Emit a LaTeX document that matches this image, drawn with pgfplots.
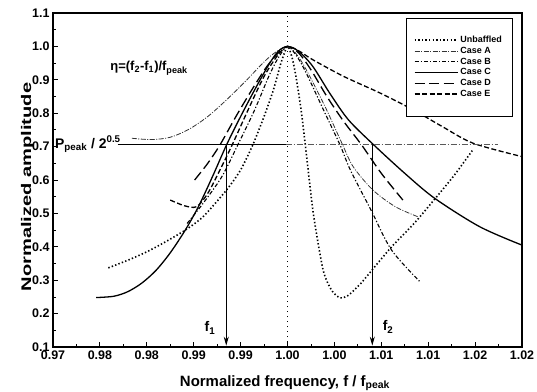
\documentclass[border=0pt]{standalone}
\usepackage{fontspec}
\setmainfont{Liberation Sans}
\usepackage{graphicx}
\usepackage{pgfplots}
\pgfplotsset{compat=1.18}
\usetikzlibrary{arrows.meta}
\begin{document}
\begin{tikzpicture}
\begin{axis}[
  scale only axis, width=469bp, height=334bp,
  xmin=0.975, xmax=1.025, ymin=0.1, ymax=1.1,
  xtick={0.975,0.980,0.985,0.990,0.995,1.000,1.005,1.010,1.015,1.020,1.025},
  xticklabels={0.97,0.98,0.98,0.99,0.99,1.00,1.00,1.01,1.01,1.02,1.02},
  ytick={0.1,0.2,0.3,0.4,0.5,0.6,0.7,0.8,0.9,1.0,1.1},
  yticklabels={0.1,0.2,0.3,0.4,0.5,0.6,0.7,0.8,0.9,1.0,1.1},
  minor x tick num=1, minor y tick num=1,
  tick align=inside, tick pos=left,
  major tick length=5bp, minor tick length=3bp,
  every tick/.style={black, line width=0.8bp},
  axis line style={line width=1.5bp},
  ticklabel style={font=\fontsize{12.5}{14}\selectfont\bfseries},
  xlabel={Normalized frequency, f / f\textsubscript{peak}},
  ylabel={\scalebox{1.44}[1]{Normalized amplitude}},
  xlabel style={font=\fontsize{15}{17}\selectfont\bfseries, at={(axis description cs:0.4947,-0.117)}, anchor=base},
  ylabel style={font=\fontsize{14}{16}\selectfont\bfseries, at={(axis description cs:-0.0544,0.479)}, anchor=center},
  legend style={at={(rel axis cs:0.9787,0.985)}, anchor=north east, draw=black, line width=0.5bp, fill=white,
    font=\fontsize{9}{10}\selectfont\bfseries, inner xsep=8bp, inner ysep=16bp, row sep=-1bp},
  legend cell align=left,
  legend image code/.code={\draw[#1] (0bp,0bp) -- (43bp,0bp);},
]
% Unbaffled
\addplot[black, line width=1.6bp, dash pattern=on 1.4bp off 2.2bp, smooth, tension=0.4] coordinates {
(0.9809,0.337) (0.9830,0.360) (0.9850,0.385) (0.9870,0.415) (0.9891,0.450) (0.9910,0.490)
(0.9935,0.570) (0.9950,0.630) (0.9963,0.705) (0.9975,0.790) (0.9985,0.870) (0.9993,0.950)
(1.0000,1.000) (1.0005,0.965) (1.0009,0.910) (1.00145,0.810) (1.0019,0.705) (1.00275,0.500)
(1.0038,0.330) (1.0047,0.270) (1.0056,0.247) (1.0065,0.255) (1.0078,0.290) (1.0090,0.330)
(1.0111,0.400) (1.0135,0.470) (1.0157,0.543) (1.0178,0.615) (1.0197,0.688)};
\addlegendentry{Unbaffled}
% Case A
\addplot[black!80, line width=0.8bp, dash pattern=on 5bp off 1.5bp on 1bp off 1.5bp, smooth, tension=0.5] coordinates {
(0.9834,0.725) (0.9855,0.721) (0.9875,0.728) (0.9895,0.752) (0.9915,0.790) (0.9935,0.840)
(0.9955,0.895) (0.9972,0.945) (0.9985,0.978) (1.0000,1.000) (1.0010,0.975) (1.0020,0.930)
(1.0040,0.820) (1.0058,0.710) (1.0070,0.640) (1.0091,0.570) (1.0115,0.520) (1.0139,0.490)};
\addlegendentry{Case A}
% Case B
\addplot[black, line width=1.1bp, dash pattern=on 4bp off 2bp on 1.2bp off 2bp, smooth, tension=0.5] coordinates {
(0.9893,0.470) (0.9910,0.530) (0.9930,0.610) (0.9947,0.705) (0.9965,0.810) (0.9980,0.910)
(0.9990,0.965) (1.0000,1.000) (1.0010,0.970) (1.0020,0.920) (1.0040,0.800) (1.0056,0.705)
(1.0067,0.630) (1.0089,0.510) (1.0111,0.390) (1.0141,0.296)};
\addlegendentry{Case B}
% Case C
\addplot[black, line width=1.3bp, smooth, tension=0.5] coordinates {
(0.9796,0.248) (0.9815,0.252) (0.9830,0.266) (0.9845,0.292) (0.9860,0.330) (0.9875,0.382)
(0.9891,0.450) (0.9905,0.520) (0.9920,0.610) (0.9935,0.705) (0.9950,0.790) (0.9965,0.870)
(0.9980,0.945) (0.9990,0.985) (1.0000,1.000) (1.0012,0.985) (1.0027,0.940) (1.0045,0.860)
(1.0065,0.780) (1.0092,0.705) (1.0125,0.620) (1.0157,0.545) (1.0205,0.460) (1.0250,0.405)};
\addlegendentry{Case C}
% Case D
\addplot[black, line width=1.3bp, dash pattern=on 10bp off 4.5bp, smooth, tension=0.5] coordinates {
(0.9901,0.600) (0.9915,0.650) (0.9928,0.705) (0.9945,0.790) (0.9962,0.870) (0.9978,0.940)
(0.9990,0.980) (1.0000,1.000) (1.0012,0.980) (1.0025,0.930) (1.0042,0.850) (1.0060,0.775)
(1.0079,0.705) (1.0100,0.620) (1.0123,0.540)};
\addlegendentry{Case D}
% Case E
\addplot[black, line width=1.3bp, dash pattern=on 5bp off 2.5bp, smooth, tension=0.5] coordinates {
(0.9875,0.540) (0.9890,0.523) (0.9903,0.520) (0.9915,0.560) (0.9928,0.630) (0.9941,0.705)
(0.9958,0.810) (0.9975,0.910) (0.9990,0.975) (1.0000,1.000) (1.0013,0.985) (1.0027,0.960)
(1.0060,0.910) (1.0099,0.860) (1.0134,0.810) (1.0165,0.760) (1.0198,0.710) (1.0250,0.670)};
\addlegendentry{Case E}
% annotations
\addplot[forget plot, black, line width=0.8bp, dash pattern=on 1bp off 4bp] coordinates {(1.0,0.1) (1.0,1.1)};
\addplot[forget plot, black, line width=1bp] coordinates {(0.9819,0.707) (0.9998,0.707)};
\addplot[forget plot, black!65, line width=1bp, dash pattern=on 6bp off 2bp on 1bp off 2bp] coordinates {(0.9998,0.707) (1.0224,0.707)};
\addplot[forget plot, black, line width=1bp, -{Stealth[length=9bp,width=5bp]}] coordinates {(0.99347,0.707) (0.99347,0.104)};
\addplot[forget plot, black, line width=1bp, -{Stealth[length=9bp,width=5bp]}] coordinates {(1.00904,0.707) (1.00904,0.104)};
\node[font=\fontsize{13}{15}\selectfont\bfseries] at (axis cs:0.98524,0.935) {η=(f\textsubscript{2}-f\textsubscript{1})/f\textsubscript{peak}};
\node[font=\fontsize{14}{16}\selectfont\bfseries, anchor=west, inner sep=0pt] at (axis cs:0.97521,0.707) {P\textsubscript{peak} / 2\textsuperscript{0.5}};
\node[font=\fontsize{14}{16}\selectfont\bfseries] at (axis cs:0.99174,0.157) {f\textsubscript{1}};
\node[font=\fontsize{14}{16}\selectfont\bfseries] at (axis cs:1.01072,0.16) {f\textsubscript{2}};
\end{axis}
\pgfresetboundingbox
\path[use as bounding box] (-53bp,-45bp) rectangle (484bp,347bp);
\end{tikzpicture}
\end{document}
